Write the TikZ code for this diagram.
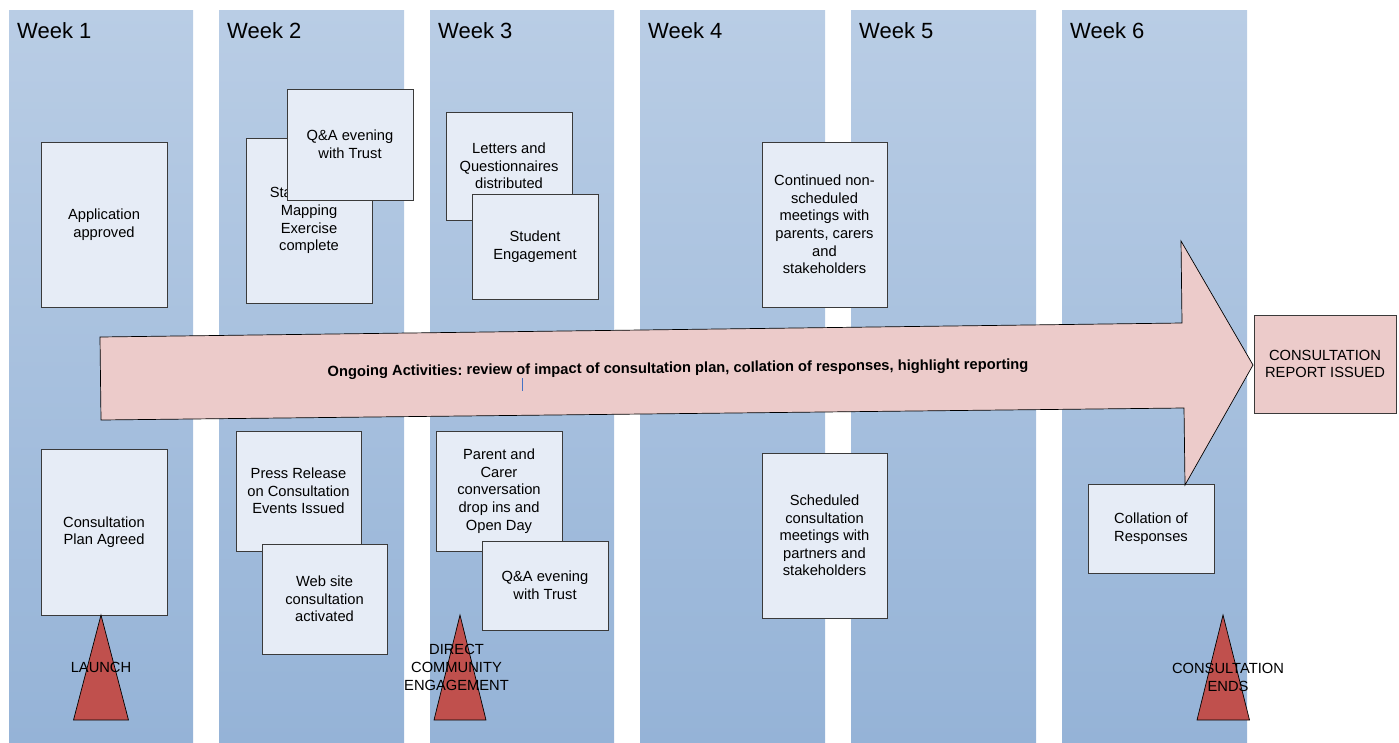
\documentclass[tikz,border=0pt]{standalone}
\usepackage{fontspec}
\setmainfont{Liberation Sans}
\definecolor{colTop}{HTML}{B9CDE5}
\definecolor{colBot}{HTML}{95B3D7}
\definecolor{boxfill}{HTML}{E6ECF6}
\definecolor{boxline}{HTML}{3A3A3A}
\definecolor{pinkfill}{HTML}{ECCBCA}
\definecolor{trifill}{HTML}{C0504D}
\definecolor{tick}{HTML}{4472C4}
\tikzset{
  col/.style={top color=colTop, bottom color=colBot, draw=none},
  weeklbl/.style={anchor=base west, inner sep=0pt, font=\fontsize{22}{24}\selectfont},
  box/.style={draw=boxline, fill=boxfill, line width=0.8pt, align=center, inner sep=0pt,
    font=\fontsize{14.7}{17.6}\selectfont},
  tri/.style={draw=black, fill=trifill, line width=0.7pt},
  trilbl/.style={align=center, inner sep=0pt, font=\fontsize{14.7}{17.6}\selectfont},
  bigarrow/.style={draw=black, fill=pinkfill, line width=0.7pt},
}
\begin{document}
\frenchspacing
\begin{tikzpicture}[x=1pt,y=-1pt]
\useasboundingbox (0,0) rectangle (1399,742);
% columns
\foreach \xa/\xb/\n in {9/193/1,219/404/2,430/614/3,640/825/4,851/1036/5,1062/1247/6}{
  \shade[col] (\xa,10) rectangle (\xb,742);
  \node[weeklbl] (week\n) at (\xa+8,38) {Week \n};
}
% week 1
\node[box, minimum width=126pt, minimum height=165pt] (app) at (104,224.5) {Application\\approved};
\node[box, minimum width=126pt, minimum height=166pt] (plan) at (104,532) {Consultation\\Plan Agreed};
% week 2
\node[box, minimum width=126pt, minimum height=165pt] (stake) at (309,220.5) {Stakeholder\\Mapping\\Exercise\\complete};
\node[box, minimum width=126pt, minimum height=111pt] (qa1) at (350,144.5) {Q\&A evening\\with Trust};
\node[box, minimum width=125pt, minimum height=120pt] (press) at (298.5,491) {Press Release\\on Consultation\\Events Issued};
\node[box, minimum width=125pt, minimum height=110pt] (web) at (324.5,599) {Web site\\consultation\\activated};
% week 3
\node[box, minimum width=126pt, minimum height=108pt] (letters) at (509,166) {Letters and\\Questionnaires\\distributed};
\node[box, minimum width=126pt, minimum height=105pt] (student) at (535,246.5) {Student\\Engagement};
\node[box, minimum width=126pt, minimum height=120pt] (parent) at (499,491) {Parent and\\Carer\\conversation\\drop ins and\\Open Day};
\node[box, minimum width=126pt, minimum height=89pt] (qa2) at (545,585.5) {Q\&A evening\\with Trust};
% week 4
\node[box, minimum width=125pt, minimum height=165pt] (cont) at (824.5,224.5) {Continued non-\\scheduled\\meetings with\\parents, carers\\and\\stakeholders};
\node[box, minimum width=125pt, minimum height=165pt] (sched) at (824.5,535.5) {Scheduled\\consultation\\meetings with\\partners and\\stakeholders};
% week 6
\node[box, minimum width=126pt, minimum height=89pt] (coll) at (1151,528.5) {Collation of\\Responses};
% big arrow
\draw[bigarrow] (100,337) -- (1182,323) -- (1181,241) -- (1253,365) -- (1185,485) -- (1184,408) -- (101,420) -- cycle;
\node[inner sep=0pt, rotate=0.6, font=\bfseries\fontsize{14.7}{17}\selectfont] (ongoing) at (678,369)
  {Ongoing Activities: review of impact of consultation plan, collation of responses, highlight reporting};
\draw[tick, line width=0.6pt] (522,378) -- (522,391);
% report
\node[box, fill=pinkfill, minimum width=142pt, minimum height=98pt] (report) at (1325,364) {CONSULTATION\\REPORT ISSUED};
% triangles
\draw[tri] (101,615) -- (128.5,720) -- (73.5,720) -- cycle;
\node[trilbl] (launch) at (101,667) {LAUNCH};
\draw[tri] (460,615) -- (486,720) -- (434,720) -- cycle;
\node[trilbl] (direct) at (456.5,667.5) {DIRECT\\COMMUNITY\\ENGAGEMENT};
\draw[tri] (1223,615) -- (1249.5,720) -- (1197,720) -- cycle;
\node[trilbl] (ends) at (1228,677.5) {CONSULTATION\\ENDS};
\end{tikzpicture}
\end{document}
